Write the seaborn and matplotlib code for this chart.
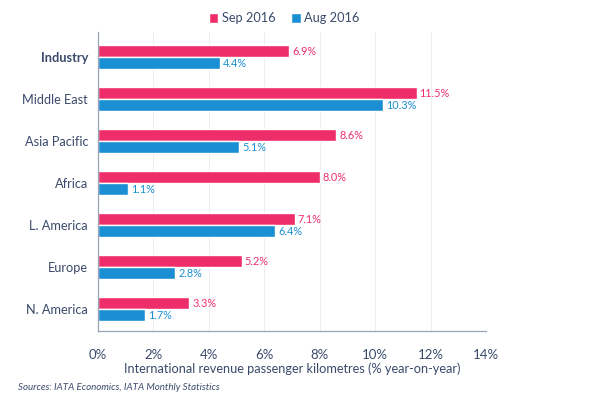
import pandas as pd
import matplotlib
matplotlib.use("Agg")
import matplotlib.pyplot as plt
import seaborn as sns

# Data
regions = ["Industry", "Middle East", "Asia Pacific", "Africa", "L. America", "Europe", "N. America"]
sep_2016 = [6.9, 11.5, 8.6, 8.0, 7.1, 5.2, 3.3]
aug_2016 = [4.4, 10.3, 5.1, 1.1, 6.4, 2.8, 1.7]
series = ["Sep 2016", "Aug 2016"]
x_ticks = [0, 2, 4, 6, 8, 10, 12, 14]

pink = "#EE2E6B"
blue = "#1A8FD3"
text_col = "#3B4A6B"

df = pd.DataFrame({
    "region": regions * 2,
    "value": sep_2016 + aug_2016,
    "series": [series[0]] * len(regions) + [series[1]] * len(regions),
})

sns.set_style("white")
plt.rcParams["font.family"] = ["Lato", "DejaVu Sans"]

fig = plt.figure(figsize=(6, 4), dpi=100)
ax = fig.add_axes([0.163, 0.1725, 0.647, 0.7475])

sns.barplot(data=df, y="region", x="value", hue="series", order=regions,
            hue_order=series, palette=[pink, blue], orient="h", width=0.58,
            saturation=1, ax=ax, legend=True)

# Value labels
for cont, col in zip(ax.containers, [pink, blue]):
    ax.bar_label(cont, labels=[f"{v:.1f}%" for v in cont.datavalues],
                 padding=2, color=col, fontsize=7.8)

ax.set_xlim(0, 14)
ax.set_ylim(6.52, -0.6)
ax.set_xticks(x_ticks)
ax.set_xticklabels([f"{t}%" for t in x_ticks], fontsize=9.5, color=text_col)
ax.xaxis.grid(True, color="#EEEEEE", linewidth=0.8)
ax.set_axisbelow(True)
ax.tick_params(axis="x", direction="out", length=4, color="#9AA3B5", pad=9)
ax.tick_params(axis="y", length=0, pad=7)
for lab in ax.get_yticklabels():
    lab.set_color(text_col)
    lab.set_fontsize(9.2)
    if lab.get_text() == "Industry":
        lab.set_fontweight("bold")

for side in ["top", "right"]:
    ax.spines[side].set_visible(False)
for side in ["left", "bottom"]:
    ax.spines[side].set_color("#9AA3B5")
    ax.spines[side].set_linewidth(0.9)

ax.set_ylabel("")
ax.set_xlabel("International revenue passenger kilometres (% year-on-year)",
              fontsize=9.2, color=text_col, labelpad=1)

leg = ax.legend(loc="lower center", bbox_to_anchor=(0.48, 1.0), ncol=2,
                frameon=False, fontsize=9.2, handlelength=0.75, handleheight=0.75,
                handletextpad=0.3, columnspacing=1.2, borderaxespad=0.2)
for t in leg.get_texts():
    t.set_color(text_col)

fig.text(0.03, 0.025, "Sources: IATA Economics, IATA Monthly Statistics",
         fontsize=7, style="italic", color=text_col)

fig.savefig("out.png", dpi=100)
